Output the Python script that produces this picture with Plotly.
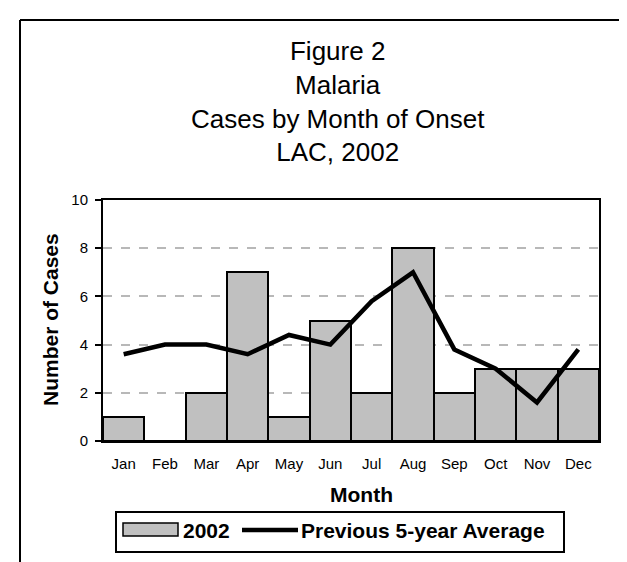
import plotly.graph_objects as go

months = ["Jan", "Feb", "Mar", "Apr", "May", "Jun", "Jul", "Aug", "Sep", "Oct", "Nov", "Dec"]
cases_2002 = [1, 0, 2, 7, 1, 5, 2, 8, 2, 3, 3, 3]
prev_5yr_avg = [3.6, 4.0, 4.0, 3.6, 4.4, 4.0, 5.8, 7.0, 3.8, 3.0, 1.6, 3.8]
y_ticks = [0, 2, 4, 6, 8, 10]
title_lines = ["Figure 2", "Malaria", "Cases by Month of Onset", "LAC, 2002"]

W, H = 627, 562
L, R, T, B = 95, 591, 192, 433
FONT = "Arial, Liberation Sans, sans-serif"


def px(x):
    return (x - L) / (R - L)


def py(y):
    return (B - y) / (B - T)


fig = go.Figure()
fig.add_trace(go.Bar(
    x=months, y=cases_2002, name="2002", width=1,
    marker=dict(color="#c0c0c0", line=dict(color="black", width=2)),
))
fig.add_trace(go.Scatter(
    x=months, y=prev_5yr_avg, name="Previous 5-year Average", mode="lines",
    line=dict(color="black", width=4.5),
))

LEG_Y = 522
shapes = [
    # outer frame (left and top visible)
    dict(type="line", xref="paper", yref="paper", x0=px(12), x1=px(12), y0=py(12), y1=py(H + 5),
         line=dict(color="black", width=2)),
    dict(type="line", xref="paper", yref="paper", x0=px(12), x1=px(W + 5), y0=py(12), y1=py(12),
         line=dict(color="black", width=2)),
    # legend box
    dict(type="rect", xref="paper", yref="paper", x0=px(108), x1=px(556), y0=py(504), y1=py(544),
         line=dict(color="black", width=2), fillcolor="white"),
    dict(type="rect", xref="paper", yref="paper", x0=px(115), x1=px(170), y0=py(515), y1=py(528),
         line=dict(color="black", width=1.5), fillcolor="#c0c0c0"),
    dict(type="line", xref="paper", yref="paper", x0=px(234), x1=px(290), y0=py(LEG_Y), y1=py(LEG_Y),
         line=dict(color="black", width=4.5)),
]

annotations = [
    dict(text="<br>".join(title_lines), xref="paper", yref="paper", x=px(330), y=py(94),
         xanchor="center", yanchor="middle", showarrow=False, align="center",
         font=dict(family=FONT, size=26, color="black")),
    dict(text="<b>Number of Cases</b>", xref="paper", yref="paper", x=px(42), y=py(312),
         xanchor="center", yanchor="middle", showarrow=False, textangle=-90,
         font=dict(family=FONT, size=21, color="black")),
    dict(text="<b>Month</b>", xref="paper", yref="paper", x=px(353), y=py(486),
         xanchor="center", yanchor="middle", showarrow=False,
         font=dict(family=FONT, size=21, color="black")),
    dict(text="<b>2002</b>", xref="paper", yref="paper", x=px(173), y=py(LEG_Y),
         xanchor="left", yanchor="middle", showarrow=False,
         font=dict(family=FONT, size=21, color="black")),
    dict(text="<b>Previous 5-year Average</b>", xref="paper", yref="paper", x=px(291), y=py(LEG_Y),
         xanchor="left", yanchor="middle", showarrow=False,
         font=dict(family=FONT, size=21, color="black")),
]

fig.update_layout(
    width=W, height=H,
    margin=dict(l=L, r=W - R, t=T, b=H - B, pad=0),
    paper_bgcolor="white", plot_bgcolor="white",
    showlegend=False, bargap=0,
    font=dict(family=FONT, size=15, color="black"),
    shapes=shapes, annotations=annotations,
    xaxis=dict(showline=True, linecolor="black", linewidth=2, mirror=True, ticks="",
               tickfont=dict(size=15), showgrid=False, ticklabelstandoff=8),
    yaxis=dict(range=[0, 10], tickvals=y_ticks, showline=True, linecolor="black", linewidth=2,
               mirror=True, ticks="outside", ticklen=6, tickwidth=2, tickcolor="black",
               showgrid=True, gridcolor="#b8b8b8", gridwidth=2, griddash="dash", zeroline=False,
               tickfont=dict(size=15), ticklabelstandoff=4),
)

fig.write_html("out.html")
